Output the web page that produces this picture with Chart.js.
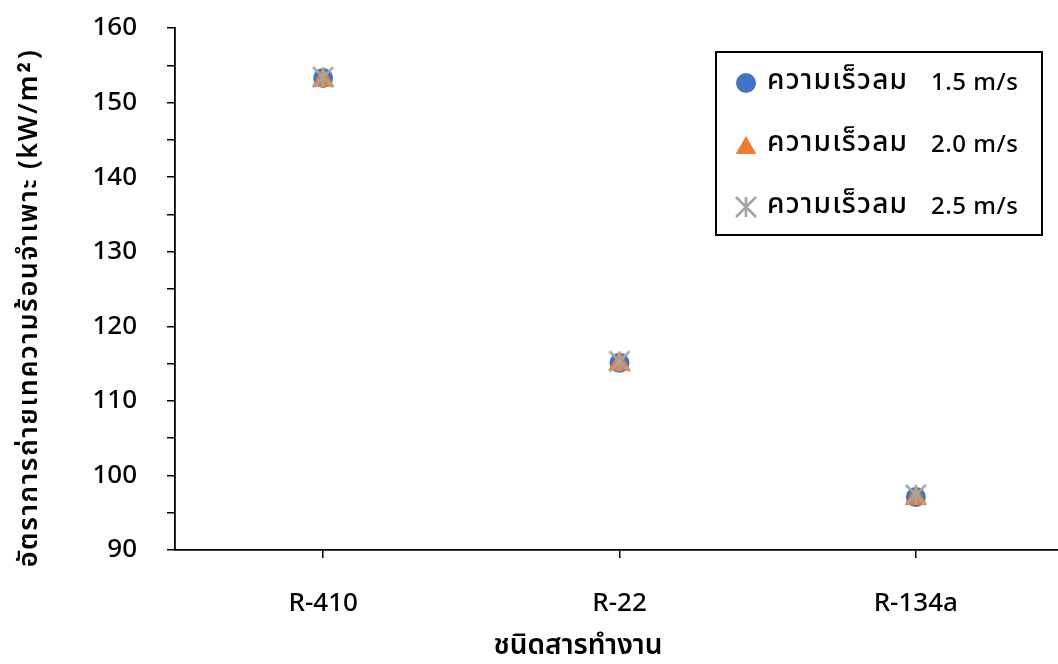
<!DOCTYPE html>
<html>
<head>
<meta charset="utf-8">
<script src="https://cdn.jsdelivr.net/npm/chart.js@4.4.0/dist/chart.umd.min.js"></script>
<style>
  html, body { margin: 0; padding: 0; background: #ffffff; overflow: hidden; width: 1058px; height: 664px; }
  #wrap { position: relative; width: 1058px; height: 664px; overflow: hidden; }
  #c { position: absolute; left: 0; top: 0; }
</style>
</head>
<body>
<div id="wrap"><canvas id="c" width="1066" height="664" style="width:1066px;height:664px"></canvas></div>
<script>
// ---- data ----
const categories = ['R-410', 'R-22', 'R-134a'];
const seriesLabels = ['ความเร็วลม 1.5 m/s', 'ความเร็วลม 2.0 m/s', 'ความเร็วลม 2.5 m/s'];
const speed15 = [153.3, 115.1, 97.1];
const speed20 = [153.0, 114.9, 96.9];
const speed25 = [153.4, 115.3, 97.4];
const yTitle = 'อัตราการถ่ายเทความร้อนจำเพาะ (kW/m²)';
const xTitle = 'ชนิดสารทำงาน';

const FONT = '"Noto Sans Thai", "Noto Sans Thai UI", "Loma", "Garuda", "Noto Sans", "DejaVu Sans", sans-serif';

// star (asterisk) marker image
function makeStar(size, color) {
  const c = document.createElement('canvas');
  c.width = size; c.height = size;
  const g = c.getContext('2d');
  const m = size / 2, h = size / 2 - 2;
  g.strokeStyle = color; g.lineWidth = 2.6; g.lineCap = 'butt';
  g.beginPath();
  g.moveTo(m, m - h); g.lineTo(m, m + h);
  g.moveTo(m - h, m - h); g.lineTo(m + h, m + h);
  g.moveTo(m + h, m - h); g.lineTo(m - h, m + h);
  g.stroke();
  return c;
}
const starImg = makeStar(24, '#A5A5A5');

const titlesPlugin = {
  id: 'titles',
  afterDraw(chart) {
    const ctx = chart.ctx;
    ctx.save();
    ctx.fillStyle = '#000';
    ctx.textAlign = 'center';
    ctx.textBaseline = 'middle';
    ctx.font = '600 27px ' + FONT;
    try { ctx.letterSpacing = '1.6px'; } catch (e) {}
    ctx.save();
    ctx.translate(32, 308);
    ctx.rotate(-Math.PI / 2);
    ctx.fillText(yTitle, 0, 0);
    ctx.restore();
    try { ctx.letterSpacing = '0px'; } catch (e) {}
    ctx.font = '600 28px ' + FONT;
    ctx.fillText(xTitle, 578, 648);
    ctx.restore();
  }
};

const legendPlugin = {
  id: 'boxLegend',
  afterDraw(chart) {
    const ctx = chart.ctx;
    ctx.save();
    ctx.strokeStyle = '#000';
    ctx.lineWidth = 2;
    ctx.strokeRect(716, 52, 326, 183);
    const ys = [83, 145, 207];
    chart.data.datasets.forEach((ds, i) => {
      ctx.fillStyle = ds.backgroundColor;
      ctx.strokeStyle = ds.borderColor;
      const isTri = ds.pointStyle === 'triangle';
      Chart.helpers.drawPoint(ctx, {
        pointStyle: ds.pointStyle,
        radius: isTri ? 12 : ds.pointRadius,
        borderWidth: 0
      }, 746, ys[i] + (isTri ? 3 : 0));
      const cut = ds.label.indexOf(' ');
      const thai = ds.label.slice(0, cut);
      const latin = ds.label.slice(cut + 1);
      ctx.fillStyle = '#000';
      ctx.textAlign = 'left';
      ctx.textBaseline = 'middle';
      ctx.font = '500 28px ' + FONT;
      try { ctx.letterSpacing = '1.2px'; } catch (e) {}
      ctx.fillText(thai, 767, ys[i]);
      try { ctx.letterSpacing = '0.5px'; } catch (e) {}
      ctx.font = '500 24px "Noto Sans", sans-serif';
      ctx.fillText(latin, 931, ys[i]);
      try { ctx.letterSpacing = '0px'; } catch (e) {}
    });
    ctx.restore();
  }
};

new Chart(document.getElementById('c'), {
  type: 'line',
  data: {
    labels: categories,
    datasets: [
      { label: seriesLabels[0], data: speed15, showLine: false, pointStyle: 'circle', pointRadius: 10,
        backgroundColor: '#4472C4', borderColor: '#4472C4', borderWidth: 0, order: 3 },
      { label: seriesLabels[1], data: speed20, showLine: false, pointStyle: 'triangle', pointRadius: 13,
        backgroundColor: '#ED7D31', borderColor: '#ED7D31', borderWidth: 0, order: 2 },
      { label: seriesLabels[2], data: speed25, showLine: false, pointStyle: starImg, pointRadius: 12,
        backgroundColor: '#A5A5A5', borderColor: '#A5A5A5', borderWidth: 0, order: 1 }
    ]
  },
  options: {
    responsive: false,
    animation: false,
    events: [],
    layout: { autoPadding: false, padding: { top: 28, right: 2, left: 0, bottom: 0 } },
    plugins: { legend: { display: false }, tooltip: { enabled: false }, title: { display: false } },
    scales: {
      x: {
        type: 'category',
        offset: true,
        grid: { display: true, drawOnChartArea: false, offset: false, tickLength: 8, color: '#000', lineWidth: 1.5 },
        border: { display: true, color: '#000', width: 1.8 },
        ticks: { color: '#000', padding: 32, font: { family: FONT, size: 26, weight: '500' }, maxRotation: 0 },
        afterFit(scale) { scale.height = 114; scale.paddingLeft = 0; scale.paddingRight = 0; }
      },
      y: {
        min: 90, max: 160,
        grid: { display: true, drawOnChartArea: false, tickLength: 8, color: '#000', lineWidth: 1.5 },
        border: { display: true, color: '#000', width: 1.8 },
        ticks: {
          stepSize: 5, color: '#000', padding: 30,
          font: { family: '"Noto Sans", sans-serif', size: 26, weight: '500' },
          callback: (v) => (v % 10 === 0 ? String(v) : '')
        },
        afterFit(scale) { scale.width = 175; scale.paddingTop = 0; scale.paddingBottom = 0; }
      }
    }
  },
  plugins: [titlesPlugin, legendPlugin]
});
</script>
</body>
</html>
